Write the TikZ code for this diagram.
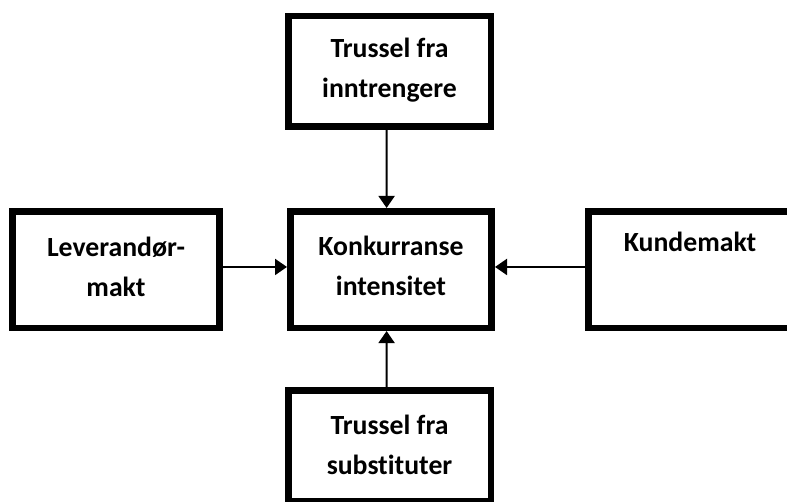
\documentclass[tikz,border=0pt]{standalone}
\usepackage{fontspec}
\setmainfont[Ligatures=NoCommon]{Carlito}
\usetikzlibrary{arrows.meta}
\begin{document}
\begin{tikzpicture}[x=0.75pt,y=-0.75pt,
  box/.style={draw=black,line width=4.9pt,fill=white,inner sep=0pt},
  txt/.style={align=center,inner sep=0pt,font=\fontsize{20.8}{30}\selectfont\bfseries},
  wide/.style={minimum width=155.6pt,minimum height=87.4pt},
  mid/.style={minimum width=151.1pt,minimum height=87.4pt},
  tall/.style={minimum width=151.9pt,minimum height=82.9pt},
  conn/.style={line width=1.5pt,-{Triangle[width=12pt,length=9pt]}}]
\useasboundingbox (0,0) rectangle (787,502);
% the five forces as framed boxes
\node[box,tall] (top) at (389.5,71.5) {};
\node[box,mid] (center) at (391,269.5) {};
\node[box,wide] (left) at (116,269.5) {};
\node[box,wide] (right) at (692,269.5) {};
\node[box,tall] (bottom) at (389.5,445.5) {};
% box captions
\node[txt] (toptext) at (389.5,70.5) {Trussel fra\\inntrengere};
\node[txt] (centertext) at (391,266) {Konkurranse\\intensitet};
\node[txt] (lefttext) at (116,267) {Leverandør-\\makt};
\node[txt] (righttext) at (690,242) {Kundemakt};
\node[txt] (bottomtext) at (389.5,445) {Trussel fra\\substituter};
% arrows into the centre
\draw[conn] ([xshift=-2.25pt]top.south) -- ([xshift=-3.3pt]center.north);
\draw[conn] ([yshift=1.9pt]left.east) -- ([yshift=1.9pt]center.west);
\draw[conn] ([yshift=1.9pt]right.west) -- ([yshift=1.9pt]center.east);
\draw[conn] ([xshift=-2.25pt]bottom.north) -- ([xshift=-3.3pt]center.south);
\end{tikzpicture}
\end{document}
